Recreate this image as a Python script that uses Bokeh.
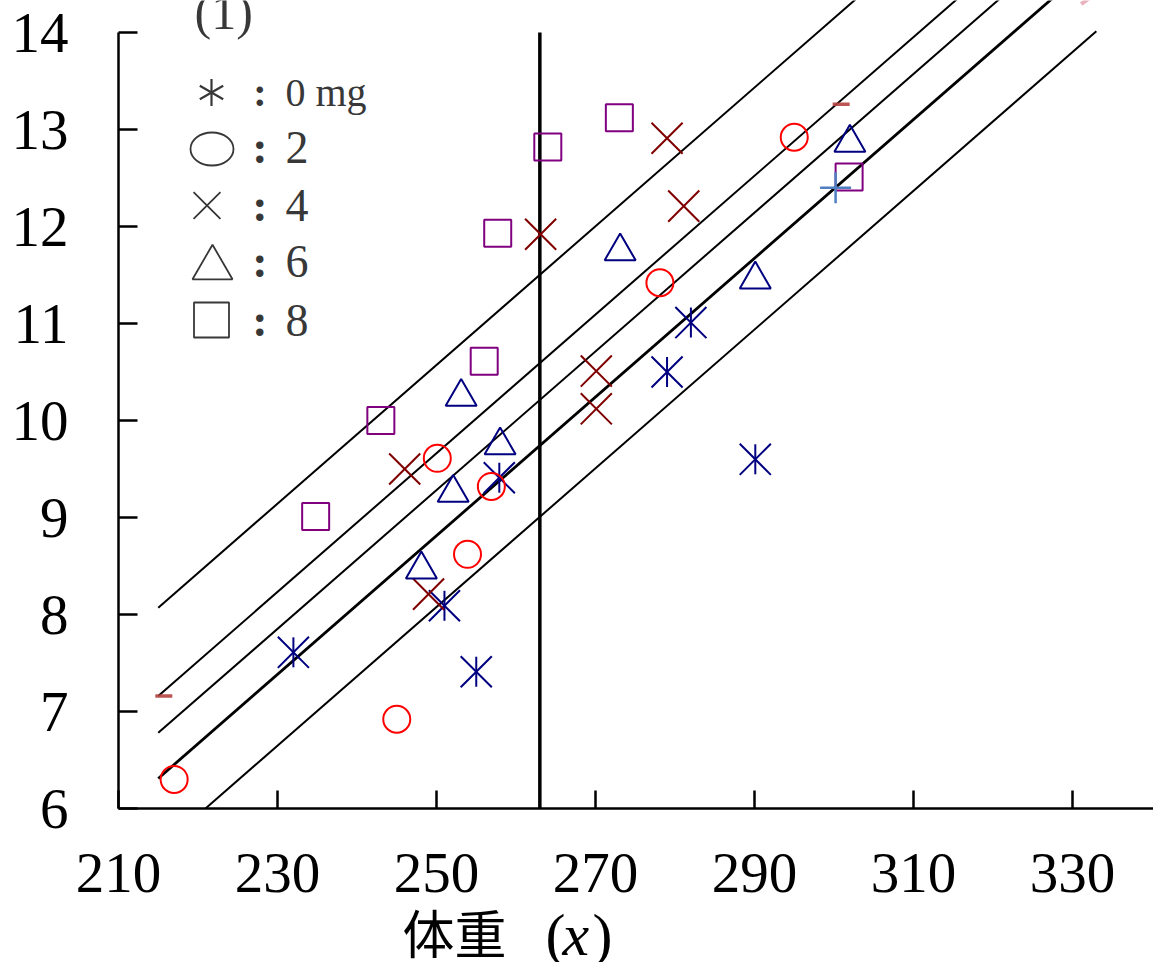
import numpy as np
from bokeh.plotting import figure
from bokeh.models import FixedTicker, Label, Range1d
from bokeh.embed import file_html
from bokeh.resources import INLINE

# ---------------- data ----------------
x_ticks = [210, 230, 250, 270, 290, 310, 330]
y_ticks = [6, 7, 8, 9, 10, 11, 12, 13, 14]

legend_labels = ["0 mg", "2", "4", "6", "8"]

x_0mg = [232.0, 251.0, 255.0, 257.9, 279.0, 282.0, 290.1]
y_0mg = [7.61, 8.09, 7.41, 9.41, 10.50, 11.01, 9.60]
x_2mg = [217.0, 245.0, 250.1, 253.9, 256.9, 278.1, 295.0]
y_2mg = [6.30, 6.92, 9.61, 8.62, 9.32, 11.42, 12.92]
x_4mg = [246.0, 249.0, 263.1, 270.1, 270.1, 279.0, 281.1]
y_4mg = [9.50, 8.21, 11.92, 10.51, 10.12, 12.91, 12.21]
x_6mg = [248.1, 252.1, 253.1, 258.0, 273.1, 290.1, 302.0]
y_6mg = [8.51, 9.30, 10.29, 9.79, 11.79, 11.50, 12.91]
x_8mg = [234.8, 243.0, 256.0, 257.7, 264.0, 273.0, 301.9]
y_8mg = [9.01, 10.00, 10.61, 11.93, 12.82, 13.12, 12.51]

dash_x = [215.7, 300.9]
dash_y = [7.16, 13.26]
plus_x = [300.2]
plus_y = [12.40]
pink_x = [331.7]
pink_y = [14.33]

common_slope = 0.0715
line_x_start = 215.0
line_x_end = 333.0
line_y_start = [8.07, 7.16, 6.78, 6.31, 5.575]
line_widths = [2.0, 2.0, 2.0, 2.8, 2.0]

x_mean = 263.0

# ---------------- figure ----------------
W, H = 1153, 962
PX_X = 7.95      # pixels per x unit
PX_Y = 97.0      # pixels per y unit
LEFT = 118       # pixel of x = 210
Y_TOP = 14 + 32 / PX_Y
X0 = 210 - LEFT / PX_X
p = figure(width=W, height=H, output_backend="svg", toolbar_location=None,
           x_range=Range1d(X0, X0 + W / PX_X),
           y_range=Range1d(Y_TOP - H / PX_Y, Y_TOP),
           min_border_left=0, min_border_right=0, min_border_top=0, min_border_bottom=0)
p.xgrid.visible = False
p.ygrid.visible = False
p.outline_line_color = None
p.background_fill_color = "white"
p.border_fill_color = "white"

for ax in (p.xaxis, p.yaxis):
    ax.axis_line_width = 2.5
    ax.axis_line_color = "black"
    ax.major_tick_line_width = 2.5
    ax.major_tick_line_color = "black"
    ax.major_tick_out = 0
    ax.minor_tick_line_color = None
    ax.major_label_text_font = "Liberation Serif"
    ax.major_label_text_font_size = "57px"
    ax.major_label_text_color = "black"

p.xaxis.ticker = FixedTicker(ticks=x_ticks)
p.yaxis.ticker = FixedTicker(ticks=y_ticks)
p.yaxis.bounds = (y_ticks[0], y_ticks[-1])
p.xaxis.bounds = (x_ticks[0], X0 + W / PX_X)
p.xaxis.fixed_location = y_ticks[0]
p.yaxis.fixed_location = x_ticks[0]
p.xaxis.major_tick_in = 18
p.yaxis.major_tick_in = 19
p.yaxis.major_label_standoff = 50
p.xaxis.major_label_standoff = 45

# regression lines (common slope), clipped at the bottom axis
for y0, lw in zip(line_y_start, line_widths):
    xs = line_x_start
    ys = y0
    if ys < y_ticks[0]:
        xs = line_x_start + (y_ticks[0] - y0) / common_slope
        ys = y_ticks[0]
    y1 = y0 + common_slope * (line_x_end - line_x_start)
    p.line([xs, line_x_end], [ys, y1], line_color="black", line_width=lw)

# vertical reference line
p.segment(x0=[x_mean], y0=[y_ticks[0]], x1=[x_mean], y1=[y_ticks[-1]],
          line_color="black", line_width=3.5)

navy = "#000080"
# 0 mg: asterisk (x + vertical bar)
p.scatter(x_0mg, y_0mg, marker="x", size=44, line_color=navy, line_width=2)
p.scatter(x_0mg, y_0mg, marker="dash", angle=np.pi / 2, size=30, line_color=navy, line_width=2)
# 2 mg
p.scatter(x_2mg, y_2mg, marker="circle", size=27, fill_color=None, line_color="red", line_width=2)
# 4 mg
p.scatter(x_4mg, y_4mg, marker="x", size=44, line_color="#800000", line_width=2)
# 6 mg (shift so the triangle's box centre sits at the point)
tri_size = 31
tri_shift = (tri_size * np.sqrt(3) / 2 / 6) / PX_Y
p.scatter(x_6mg, [v - tri_shift for v in y_6mg], marker="triangle", size=tri_size,
          fill_color=None, line_color=navy, line_width=2)
# 8 mg
p.scatter(x_8mg, y_8mg, marker="square", size=27, fill_color=None, line_color="#800080", line_width=2)

# extra marks
p.scatter(dash_x, dash_y, marker="dash", size=17, line_color="#b5443f", line_width=3.5, line_alpha=0.9)
p.scatter(plus_x, plus_y, marker="cross", size=31, line_color="#4f7fbf", line_width=2.5)
p.scatter(pink_x, pink_y, marker="dash", angle=np.pi / 5, size=12, line_color="#eab2bc", line_width=4)

# ---------------- legend (manual) ----------------
def dx(sx):
    return 210 + (sx - LEFT) / PX_X

def dy(sy):
    return 14 - (sy - 32) / PX_Y

def baseline_y(sy, size_px, factor=0.37):
    # Bokeh places "alphabetic" text a little low; compensate
    return dy(sy - factor * size_px)

gray = "#383838"
for ang in (np.pi / 2, np.pi / 6, 5 * np.pi / 6):
    p.scatter([dx(211)], [dy(92)], marker="dash", angle=ang, size=27, line_color=gray, line_width=2.2)
p.ellipse(x=[dx(211.5)], y=[dy(148.5)], width=[43], height=[33], width_units="screen",
          height_units="screen", fill_color=None, line_color=gray, line_width=1.8)
p.scatter([dx(206.5)], [dy(205)], marker="x", size=38, line_color=gray, line_width=1.8)
p.scatter([dx(212)], [dy(261.5 + 40 * np.sqrt(3) / 2 / 6)], marker="triangle", size=40,
          fill_color=None, line_color=gray, line_width=1.8)
p.scatter([dx(211)], [dy(319.5)], marker="square", size=35, fill_color=None, line_color=gray, line_width=1.8)

baselines = [107, 164, 221.7, 278, 336.7]
sizes = [40, 46, 46, 46, 46]
for lab, b, fs in zip(legend_labels, baselines, sizes):
    p.add_layout(Label(x=dx(259.5), y=baseline_y(b, fs), text=":", text_align="center",
                       text_baseline="alphabetic", text_font="Liberation Serif", text_font_style="bold",
                       text_font_size=f"{fs}px", text_color=gray))
    p.add_layout(Label(x=dx(285), y=baseline_y(b, fs), text=lab, text_align="left",
                       text_baseline="alphabetic", text_font="Liberation Serif",
                       text_font_size=f"{fs}px", text_color=gray))

p.add_layout(Label(x=dx(194), y=baseline_y(30, 50), text="(1)", text_align="left",
                   text_baseline="alphabetic", text_font="Liberation Serif", text_font_size="50px",
                   text_color=gray))

# axis title
p.add_layout(Label(x=dx(402), y=baseline_y(955, 52, 0.47), text="体重", text_align="left",
                   text_baseline="alphabetic", text_font="Noto Sans CJK JP", text_font_size="52px",
                   text_color="black"))
p.add_layout(Label(x=dx(545), y=baseline_y(957, 60), text="(", text_align="left",
                   text_baseline="alphabetic", text_font="Liberation Serif", text_font_size="60px",
                   text_color="black"))
p.add_layout(Label(x=dx(562), y=baseline_y(957, 60), text="x", text_align="left",
                   text_baseline="alphabetic", text_font="Liberation Serif", text_font_style="italic",
                   text_font_size="60px", text_color="black"))
p.add_layout(Label(x=dx(592), y=baseline_y(957, 60), text=")", text_align="left",
                   text_baseline="alphabetic", text_font="Liberation Serif", text_font_size="60px",
                   text_color="black"))

open("out.html", "w").write(file_html(p, INLINE))
